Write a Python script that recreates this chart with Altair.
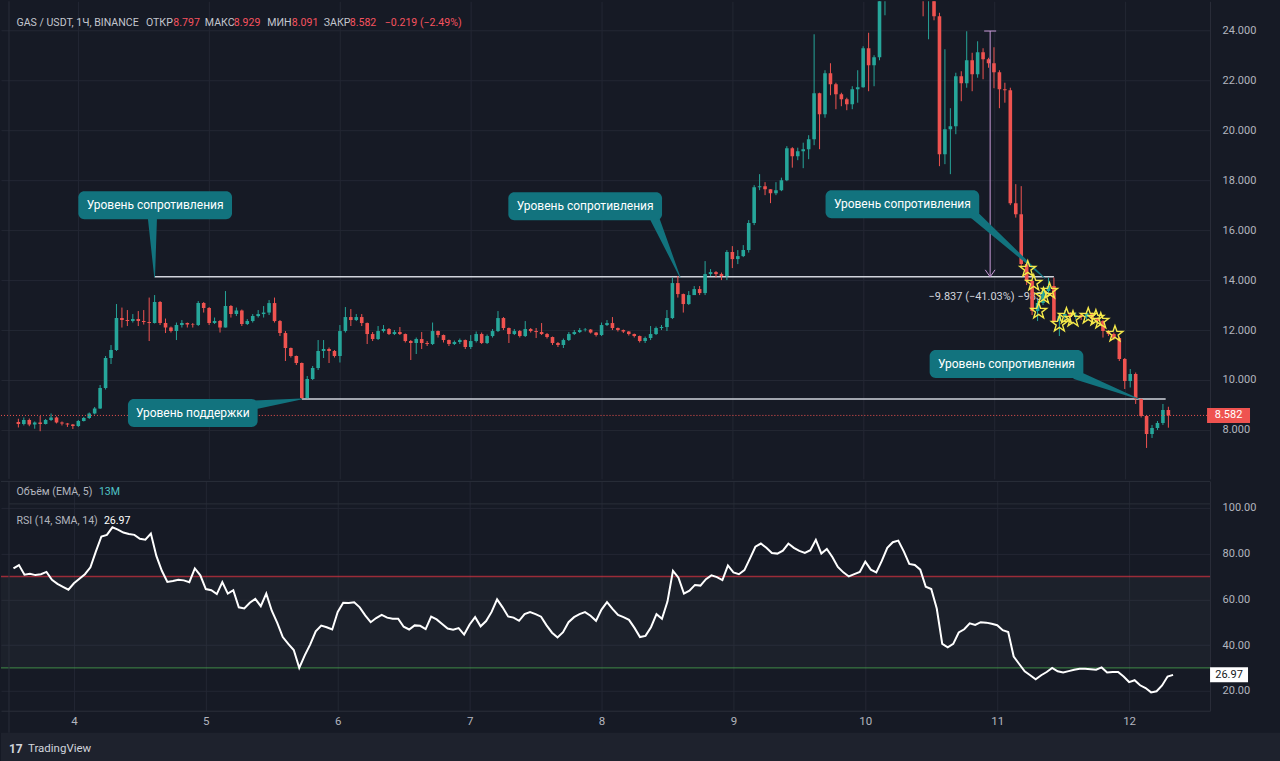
import altair as alt
import pandas as pd

# ---------------- data ----------------
first_hour = 85          # first candle: day 3, 13:00 (hours counted from day 0)
first_open = 8.32

closes = [
    8.24, 8.40, 8.22, 8.30, 8.24, 8.40, 8.50, 8.30, 8.26, 8.22,
    8.16, 8.36, 8.48, 8.66, 8.86, 9.68, 10.88, 11.20, 12.48, 12.40,
    12.36, 12.44, 12.36, 12.32, 12.28, 13.12, 12.28, 12.10, 11.96, 12.20,
    12.28, 12.22, 12.20, 13.08, 12.88, 12.28, 12.36, 12.10, 12.96, 12.64,
    12.78, 12.24, 12.36, 12.56, 12.64, 12.70, 13.08, 12.36, 11.88, 11.28,
    10.96, 10.68, 9.28, 10.04, 10.48, 11.16, 11.24, 11.16, 10.96, 11.96,
    12.52, 12.40, 12.52, 12.28, 11.84, 11.64, 11.96, 12.04, 11.84, 11.92,
    11.84, 11.56, 11.48, 11.64, 11.48, 11.44, 11.96, 11.80, 11.60, 11.44,
    11.52, 11.60, 11.32, 11.56, 11.84, 11.48, 11.76, 11.96, 12.48, 12.08,
    11.84, 11.96, 11.76, 12.04, 11.96, 11.92, 11.84, 11.72, 11.48, 11.40,
    11.60, 11.84, 11.92, 12.00, 12.02, 11.90, 11.80, 12.20, 12.28, 12.08,
    12.00, 11.94, 11.84, 11.76, 11.56, 11.68, 11.84, 12.08, 12.12, 12.48,
    13.88, 13.44, 13.04, 13.40, 13.64, 13.48, 14.24, 14.32, 14.24, 14.16,
    15.12, 14.84, 14.96, 15.20, 16.28, 17.72, 17.76, 17.64, 17.48, 17.60,
    18.00, 19.28, 18.96, 19.16, 19.24, 19.64, 21.48, 20.64, 22.28, 21.84,
    21.44, 21.24, 21.04, 21.64, 21.72, 23.28, 22.60, 22.92, 25.40, 26.20,
    26.80, 27.40, 26.90, 27.20, 26.60, 26.00, 25.50, 25.90, 24.56, 19.04,
    20.04, 20.16, 22.16, 21.88, 22.80, 22.24, 23.12, 22.84, 22.68, 22.32,
    21.64, 21.60, 17.08, 16.64, 14.64, 13.96, 12.76, 13.08, 13.56, 13.76,
    12.36, 12.56, 12.64, 12.52, 12.60, 12.52, 12.68, 12.44, 12.36, 11.96,
    11.84, 11.68, 10.84, 9.96, 10.24, 9.24, 8.56, 7.84, 8.08, 8.28,
    8.797, 8.582,
]

highs = [
    8.45, 8.50, 8.46, 8.34, 8.56, 8.44, 8.66, 8.54, 8.34, 8.28,
    8.24, 8.40, 8.52, 8.70, 8.92, 9.80, 10.96, 11.40, 13.04, 12.90,
    12.80, 12.64, 12.76, 12.80, 13.30, 13.40, 13.16, 12.46, 12.14, 12.30,
    12.40, 12.30, 12.28, 13.16, 13.12, 12.92, 12.50, 12.40, 13.56, 13.00,
    12.90, 12.82, 12.44, 12.64, 12.80, 12.96, 13.20, 13.30, 12.40, 11.96,
    11.30, 10.98, 10.70, 10.16, 10.56, 11.60, 11.60, 11.30, 11.20, 12.20,
    12.92, 12.84, 12.64, 12.64, 12.30, 11.92, 12.16, 12.20, 12.08, 12.00,
    12.12, 11.86, 11.60, 11.70, 11.92, 11.56, 12.30, 11.98, 11.82, 11.62,
    11.58, 11.66, 11.62, 11.80, 11.94, 11.90, 11.82, 12.04, 12.76, 12.52,
    12.10, 12.04, 12.00, 12.36, 12.08, 12.08, 12.28, 11.88, 11.74, 11.52,
    11.66, 11.92, 12.00, 12.08, 12.08, 12.04, 11.92, 12.30, 12.40, 12.52,
    12.10, 12.02, 11.96, 11.86, 11.78, 11.74, 12.16, 12.14, 12.20, 12.80,
    14.10, 14.16, 13.46, 13.56, 13.76, 13.76, 14.76, 14.44, 14.36, 14.30,
    15.20, 15.36, 15.20, 15.40, 16.40, 17.80, 18.24, 17.92, 17.64, 17.92,
    18.10, 19.36, 19.32, 19.30, 19.50, 19.80, 23.84, 21.50, 22.40, 22.68,
    21.90, 21.50, 21.30, 21.76, 22.40, 23.36, 23.90, 23.00, 25.80, 26.80,
    27.50, 28.00, 27.80, 27.60, 27.40, 26.80, 26.20, 26.40, 26.10, 24.70,
    23.24, 20.88, 22.30, 22.36, 23.96, 23.10, 23.56, 23.28, 22.90, 23.32,
    22.40, 21.90, 21.70, 17.84, 17.76, 14.70, 14.00, 13.20, 13.70, 14.10,
    14.10, 12.64, 12.80, 12.72, 12.70, 12.66, 12.76, 12.70, 12.50, 12.40,
    12.00, 11.90, 11.72, 10.88, 10.44, 10.30, 9.26, 8.60, 8.20, 8.36,
    9.04, 8.929,
]

lows = [
    8.10, 8.18, 8.15, 8.05, 7.95, 8.22, 8.36, 8.26, 8.18, 8.12,
    8.04, 8.12, 8.34, 8.44, 8.62, 8.84, 9.62, 10.64, 11.16, 12.10,
    12.16, 12.30, 12.16, 12.22, 11.56, 12.26, 12.20, 11.88, 11.90, 11.60,
    12.10, 12.10, 12.10, 12.16, 12.70, 12.20, 12.24, 11.90, 12.10, 12.50,
    12.56, 12.16, 12.20, 12.30, 12.50, 12.50, 12.60, 12.30, 11.76, 10.76,
    10.90, 10.60, 9.24, 9.26, 10.00, 10.40, 10.88, 10.68, 10.90, 10.70,
    11.90, 12.16, 12.36, 12.16, 11.44, 11.56, 11.60, 11.90, 11.80, 11.80,
    11.80, 11.50, 10.80, 11.04, 11.24, 11.36, 11.40, 11.70, 11.50, 11.36,
    11.40, 11.44, 11.24, 11.24, 11.50, 11.44, 11.44, 11.70, 11.92, 12.00,
    11.48, 11.80, 11.70, 11.72, 11.90, 11.68, 11.80, 11.66, 11.40, 11.32,
    11.28, 11.56, 11.80, 11.88, 11.94, 11.86, 11.74, 11.76, 12.16, 12.00,
    11.94, 11.88, 11.78, 11.70, 11.50, 11.48, 11.60, 11.80, 12.00, 11.96,
    12.44, 13.30, 12.70, 13.00, 13.40, 13.40, 13.40, 14.16, 14.10, 14.00,
    14.00, 14.48, 14.64, 14.92, 15.10, 16.20, 17.60, 17.40, 17.08, 17.40,
    17.56, 17.96, 18.50, 18.80, 18.48, 18.84, 19.40, 19.24, 20.50, 21.40,
    20.84, 20.96, 20.80, 20.84, 21.10, 21.70, 21.56, 21.76, 22.80, 24.60,
    25.90, 26.50, 26.30, 26.40, 26.00, 25.60, 24.56, 23.64, 24.40, 18.56,
    18.64, 18.24, 19.84, 21.16, 21.70, 21.56, 22.10, 22.04, 22.50, 21.68,
    20.88, 21.10, 17.00, 16.50, 14.50, 13.80, 12.60, 12.36, 13.00, 13.40,
    12.30, 11.76, 12.40, 12.40, 12.44, 12.40, 12.40, 12.36, 12.28, 11.70,
    11.76, 11.60, 10.76, 9.64, 9.70, 9.04, 8.50, 7.28, 7.68, 8.00,
    8.20, 8.091,
]

rsi_values = [
    73.5, 75.0, 70.8, 71.2, 70.6, 71.0, 72.0, 68.5, 66.8, 65.5,
    64.2, 67.0, 69.0, 71.0, 74.0, 81.0, 87.5, 88.2, 91.5, 90.5,
    89.2, 88.6, 88.2, 86.5, 86.1, 88.8, 79.0, 72.5, 67.6, 68.0,
    68.6, 68.3, 67.5, 73.5, 70.5, 64.5, 64.0, 62.3, 67.5, 62.5,
    64.0, 56.5, 56.0, 58.5, 60.2, 57.0, 62.5, 55.0, 49.7, 43.5,
    40.5, 37.8, 30.0, 35.5, 40.3, 46.0, 48.5, 47.8, 46.8, 54.5,
    58.5, 58.4, 58.7, 56.5, 53.0, 50.0, 51.8, 53.2, 52.0, 51.5,
    51.5, 48.0, 46.8, 48.6, 48.4, 47.0, 52.4, 51.2, 49.2, 47.2,
    46.7, 47.4, 44.6, 49.0, 52.2, 48.2, 50.5, 54.5, 60.0, 56.5,
    52.5, 52.0, 50.6, 53.5, 54.4, 53.5, 52.4, 48.6, 45.4, 43.3,
    45.6, 50.0, 52.2, 53.5, 54.4, 52.8, 50.6, 55.5, 58.8, 55.8,
    53.2, 52.2, 51.0, 47.5, 43.5, 44.0, 47.8, 53.5, 51.5, 59.0,
    72.5, 69.5, 62.5, 63.8, 66.3, 66.0, 68.8, 70.5, 69.7, 68.4,
    74.8, 71.8, 71.0, 72.8, 77.8, 83.0, 84.4, 82.6, 80.3, 80.0,
    81.3, 84.4, 82.5, 81.2, 80.3, 81.5, 86.0, 80.0, 82.0, 78.5,
    74.2, 71.8, 70.0, 71.0, 72.0, 76.5, 73.0, 71.8, 76.8, 82.5,
    85.0, 85.7, 81.0, 75.5, 75.0, 73.0, 65.5, 64.5, 56.0, 40.5,
    39.0, 40.5, 45.5, 46.9, 49.5, 48.8, 50.0, 49.8, 49.3, 48.7,
    46.5, 45.7, 35.0, 31.7, 28.5, 26.8, 25.0, 26.8, 28.2, 30.0,
    28.5, 28.0, 28.6, 29.2, 29.6, 29.6, 29.4, 29.2, 30.2, 28.0,
    28.2, 28.2, 26.2, 23.8, 24.6, 22.4, 21.2, 19.3, 19.8, 22.3,
    26.2, 26.97,
]

day_ticks = [96, 120, 144, 168, 192, 216, 240, 264, 288]
price_ticks = [8, 10, 12, 14, 16, 18, 20, 22, 24]
rsi_ticks = [20, 40, 60, 80, 100]
rsi_bands = [70, 30]

# horizontal levels drawn on the chart
level_price = [14.13, 9.24]
level_start = [110, 137]
level_end = [275, 295.5]

# callouts
callout_text = ["Уровень сопротивления", "Уровень сопротивления", "Уровень сопротивления",
                "Уровень сопротивления", "Уровень поддержки"]
callout_anchor_h = [110.0, 206.4, 273.3, 290.5, 136.9]
callout_anchor_p = [14.12, 14.12, 14.08, 9.24, 9.24]

# measurement tool
meas_h = 263.3
meas_top = 23.97
meas_bottom = 14.13
meas_label = "−9.837 (−41.03%) −9837"

# star marks
star_h = [270.2, 271.3, 272.2, 273.1, 274.2, 276.0, 277.3, 278.5, 281.3, 282.7, 283.6, 286.2]
star_p = [14.44, 13.88, 12.76, 13.36, 13.56, 12.24, 12.56, 12.44, 12.56, 12.48, 12.36, 11.84]

# ---------------- layout / style (not data) ----------------
callout_x0 = [96.0, 174.9, 233.1, 252.2, 105.1]
callout_x1 = [124.2, 203.1, 261.3, 280.4, 128.9]
callout_top = [17.56, 17.52, 17.60, 11.20, 9.24]
callout_bot = [16.44, 16.40, 16.48, 10.08, 8.12]
pointer_h = [109.6, 201.8, 260.0, 279.1, 128.2]
pointer_p = [16.44, 16.44, 16.68, 10.20, 9.00]

UP = "#26a69a"
DOWN = "#ef5350"
BG = "#161a25"
BAR_BG = "#1e222d"
GRID = "#232733"
BORDER = "#2a2e39"
TXT = "#b2b5be"
CALLOUT = "#12737e"
FONT = "Roboto"
W = 1210
H_MAIN = 478
H_RSI = 230
SMALL = 10.6

n = len(closes)
assert len(highs) == n and len(lows) == n and len(rsi_values) == n, (len(highs), len(lows), len(rsi_values), n)
hours = [first_hour + i for i in range(n)]
opens = [first_open] + closes[:-1]
candles = pd.DataFrame({"h": hours, "open": opens, "high": highs, "low": lows, "close": closes})
candles["dir"] = ["up" if c >= o else "down" for o, c in zip(opens, closes)]

x_scale = alt.Scale(domain=[82.73, 302.73], nice=False, zero=False)
y_scale = alt.Scale(domain=[6.04, 25.16], nice=False, zero=False)
r_scale = alt.Scale(domain=[11.26, 111.8], nice=False, zero=False)

x_main_axis = alt.Axis(values=day_ticks, grid=True, gridColor=GRID, labels=False, ticks=False,
                       domain=False, title=None)
y_main_axis = alt.Axis(orient="right", values=price_ticks, format=".3f", grid=True, gridColor=GRID,
                       ticks=False, domain=True, domainColor=BORDER, labelColor=TXT, labelFontSize=11,
                       labelFont=FONT, labelPadding=12, title=None)
x_rsi_axis = alt.Axis(values=day_ticks, labelExpr="datum.value / 24", grid=True, gridColor=GRID,
                      ticks=False, domain=True, domainColor=BORDER, labelColor=TXT, labelFontSize=11.5,
                      labelFont=FONT, labelPadding=5, title=None)
y_rsi_axis = alt.Axis(orient="right", values=rsi_ticks, format=".2f", grid=True, gridColor=GRID,
                      ticks=False, domain=True, domainColor=BORDER, labelColor=TXT, labelFontSize=11,
                      labelFont=FONT, labelPadding=12, title=None)


def X(f):
    return alt.X(f, type="quantitative", scale=x_scale, axis=x_main_axis)


def Y(f):
    return alt.Y(f, type="quantitative", scale=y_scale, axis=y_main_axis)


def RX(f):
    return alt.X(f, type="quantitative", scale=x_scale, axis=x_rsi_axis)


def RY(f):
    return alt.Y(f, type="quantitative", scale=r_scale, axis=y_rsi_axis)


color = alt.Color("dir:N", scale=alt.Scale(domain=["up", "down"], range=[UP, DOWN]), legend=None)

# ---------------- main panel ----------------
base = alt.Chart(candles)
wicks = base.mark_rule(clip=True, strokeWidth=1).encode(x=X("h"), y=Y("low"), y2="high", color=color)
bodies = base.mark_bar(clip=True, size=3.6).encode(x=X("h"), y=Y("open"), y2="close", color=color)

levels = alt.Chart(pd.DataFrame({"p": level_price, "h0": level_start, "h1": level_end})).mark_rule(
    color="#d1d4dc", strokeWidth=1.5).encode(x=X("h0"), x2="h1", y=Y("p"))

last_df = pd.DataFrame({"p": [closes[-1]], "t": [f"{closes[-1]:.3f}"]})
last_rule = alt.Chart(last_df).mark_rule(color=DOWN, strokeDash=[1, 2], strokeWidth=1).encode(y=Y("p"))
last_box = alt.Chart(last_df).mark_tick(orient="horizontal", size=43, thickness=15, color=DOWN,
                                        opacity=1).encode(x=alt.value(1228.5), y=Y("p"))
last_txt = alt.Chart(last_df).mark_text(color="white", fontSize=11, font=FONT).encode(
    x=alt.value(1228.5), y=Y("p"), text="t:N")

cdf = pd.DataFrame({"text": callout_text, "x0": callout_x0, "x1": callout_x1,
                    "top": callout_top, "bot": callout_bot})
cdf["cx"] = (cdf["x0"] + cdf["x1"]) / 2
cdf["cy"] = (cdf["top"] + cdf["bot"]) / 2
boxes = alt.Chart(cdf).mark_rect(cornerRadius=6, color=CALLOUT).encode(
    x=X("x0"), x2="x1", y=Y("top"), y2="bot")
box_text = alt.Chart(cdf).mark_text(color="white", fontSize=12, font=FONT).encode(
    x=X("cx"), y=Y("cy"), text="text:N")

prow = []
for i in range(len(callout_text)):
    prow.append({"id": i, "ord": 0, "h": pointer_h[i], "p": pointer_p[i], "w": 9})
    prow.append({"id": i, "ord": 1, "h": callout_anchor_h[i], "p": callout_anchor_p[i], "w": 0.8})
pointers = alt.Chart(pd.DataFrame(prow)).mark_trail(color=CALLOUT).encode(
    x=X("h"), y=Y("p"), size=alt.Size("w:Q", scale=None, legend=None),
    detail="id:N", order="ord:Q")

MEAS = "#c99ad8"
mdf = pd.DataFrame({"h": [meas_h], "top": [meas_top], "bot": [meas_bottom],
                    "hl": [meas_h - 1.1], "hr": [meas_h + 1.1], "t": [meas_label],
                    "th": [meas_h - 11.3], "tp": [meas_bottom - 0.82]})
meas_line = alt.Chart(mdf).mark_rule(color=MEAS, strokeWidth=1).encode(x=X("h"), y=Y("top"), y2="bot")
meas_cap = alt.Chart(mdf).mark_rule(color=MEAS, strokeWidth=1).encode(x=X("hl"), x2="hr", y=Y("top"))
adf = pd.DataFrame({"h0": [meas_h - 0.9, meas_h + 0.9], "p0": [meas_bottom + 0.28] * 2,
                    "h1": [meas_h, meas_h], "p1": [meas_bottom, meas_bottom]})
meas_arrow = alt.Chart(adf).mark_rule(color=MEAS, strokeWidth=1).encode(
    x=X("h0"), x2="h1", y=Y("p0"), y2="p1")
meas_text = alt.Chart(mdf).mark_text(color="#d1d4dc", fontSize=11, font=FONT, align="left").encode(
    x=X("th"), y=Y("tp"), text="t:N")

STAR = "M0,-1L0.235,-0.324L0.951,-0.309L0.38,0.124L0.588,0.809L0,0.4L-0.588,0.809L-0.38,0.124L-0.951,-0.309L-0.235,-0.324Z"
stars = alt.Chart(pd.DataFrame({"h": star_h, "p": star_p})).mark_point(
    shape=STAR, size=280, filled=False, color="#f5e94a", strokeWidth=1.4, opacity=1).encode(
    x=X("h"), y=Y("p"))

header_parts = [
    ("GAS / USDT, 1Ч, BINANCE", 15.5, "#c3c6ce"),
    ("ОТКР", 145, "#c3c6ce"), ("8.797", 172.5, "#f7525f"),
    ("МАКС", 204, "#c3c6ce"), ("8.929", 233, "#f7525f"),
    ("МИН", 266.5, "#c3c6ce"), ("8.091", 291, "#f7525f"),
    ("ЗАКР", 323, "#c3c6ce"), ("8.582", 349, "#f7525f"),
    ("−0.219 (−2.49%)", 384, "#f7525f"),
]
header = [
    alt.Chart(pd.DataFrame({"t": [t]})).mark_text(
        align="left", baseline="middle", fontSize=SMALL, font=FONT, color=c).encode(
        x=alt.value(px), y=alt.value(22), text="t:N")
    for t, px, c in header_parts
]

left_border = alt.Chart(pd.DataFrame({"a": [0]})).mark_rule(color=BORDER).encode(
    x=alt.value(8), y=alt.value(0), y2=alt.value(H_MAIN))

main = alt.layer(
    left_border, levels, meas_text, wicks, bodies, meas_line, meas_cap, meas_arrow,
    last_rule, pointers, boxes, box_text, stars, last_box, last_txt, *header
).properties(width=W, height=H_MAIN)

# ---------------- RSI panel ----------------
rdf = pd.DataFrame({"h": hours, "rsi": rsi_values})
band = alt.Chart(pd.DataFrame({"a": [rsi_bands[0]], "b": [rsi_bands[1]]})).mark_rect(
    color="#787b86", opacity=0.07).encode(x=alt.value(0), x2=alt.value(W), y=RY("a"), y2="b")
upper = alt.Chart(pd.DataFrame({"v": [rsi_bands[0]]})).mark_rule(
    color="#f23645", opacity=0.6, strokeWidth=1.5).encode(y=RY("v"))
lower = alt.Chart(pd.DataFrame({"v": [rsi_bands[1]]})).mark_rule(
    color="#4caf50", opacity=0.75, strokeWidth=1).encode(y=RY("v"))
rsi_line = alt.Chart(rdf).mark_line(color="white", strokeWidth=2, clip=True).encode(
    x=RX("h"), y=RY("rsi"))

rlast = pd.DataFrame({"v": [rsi_values[-1]], "t": [f"{rsi_values[-1]:.2f}"]})
rsi_box = alt.Chart(rlast).mark_tick(orient="horizontal", size=38, thickness=15, color="white",
                                     opacity=1).encode(x=alt.value(1229), y=RY("v"))
rsi_box_txt = alt.Chart(rlast).mark_text(color="#131722", fontSize=11, font=FONT).encode(
    x=alt.value(1229), y=RY("v"), text="t:N")

sep_top = alt.Chart(pd.DataFrame({"a": [0]})).mark_rule(color=BORDER, strokeWidth=1).encode(
    x=alt.value(0), x2=alt.value(W), y=alt.value(0.5))
sep_vol = alt.Chart(pd.DataFrame({"a": [0]})).mark_rule(color=BORDER, strokeWidth=1).encode(
    x=alt.value(8), x2=alt.value(W), y=alt.value(23))
left_border2 = alt.Chart(pd.DataFrame({"a": [0]})).mark_rule(color=BORDER).encode(
    x=alt.value(8), y=alt.value(0), y2=alt.value(252))

legend_parts = [
    ("Объём (EMA, 5)", 15.5, 11, TXT), ("13M", 98, 11, "#4fc3c7"),
    ("RSI (14, SMA, 14)", 15.5, 40, TXT), ("26.97", 103, 40, "#ffffff"),
]
legends = [
    alt.Chart(pd.DataFrame({"t": [t]})).mark_text(
        align="left", baseline="middle", fontSize=SMALL, font=FONT, color=c).encode(
        x=alt.value(px), y=alt.value(py), text="t:N")
    for t, px, py, c in legend_parts
]

bottom_bar = alt.Chart(pd.DataFrame({"a": [0]})).mark_rect(color=BAR_BG).encode(
    x=alt.value(0), x2=alt.value(1280), y=alt.value(252), y2=alt.value(283))
logo = alt.Chart(pd.DataFrame({"t": ["17"]})).mark_text(
    align="left", baseline="middle", fontSize=12, font=FONT, fontWeight="bold",
    color="#d1d4dc").encode(x=alt.value(8), y=alt.value(268), text="t:N")
brand = alt.Chart(pd.DataFrame({"t": ["TradingView"]})).mark_text(
    align="left", baseline="middle", fontSize=11.5, font=FONT, color="#d1d4dc").encode(
    x=alt.value(27), y=alt.value(268), text="t:N")

rsi_panel = alt.layer(
    band, upper, lower, sep_top, sep_vol, left_border2, rsi_line, rsi_box, rsi_box_txt,
    bottom_bar, logo, brand, *legends
).properties(width=W, height=H_RSI)

chart = alt.vconcat(main, rsi_panel, spacing=0).properties(
    padding={"left": 0, "top": 0, "right": 0, "bottom": 0},
    autosize=alt.AutoSizeParams(type="pad"),
).configure(background=BG, font=FONT).configure_view(stroke=None)

chart.save("out.html", embed_options={"renderer": "svg", "actions": False})
